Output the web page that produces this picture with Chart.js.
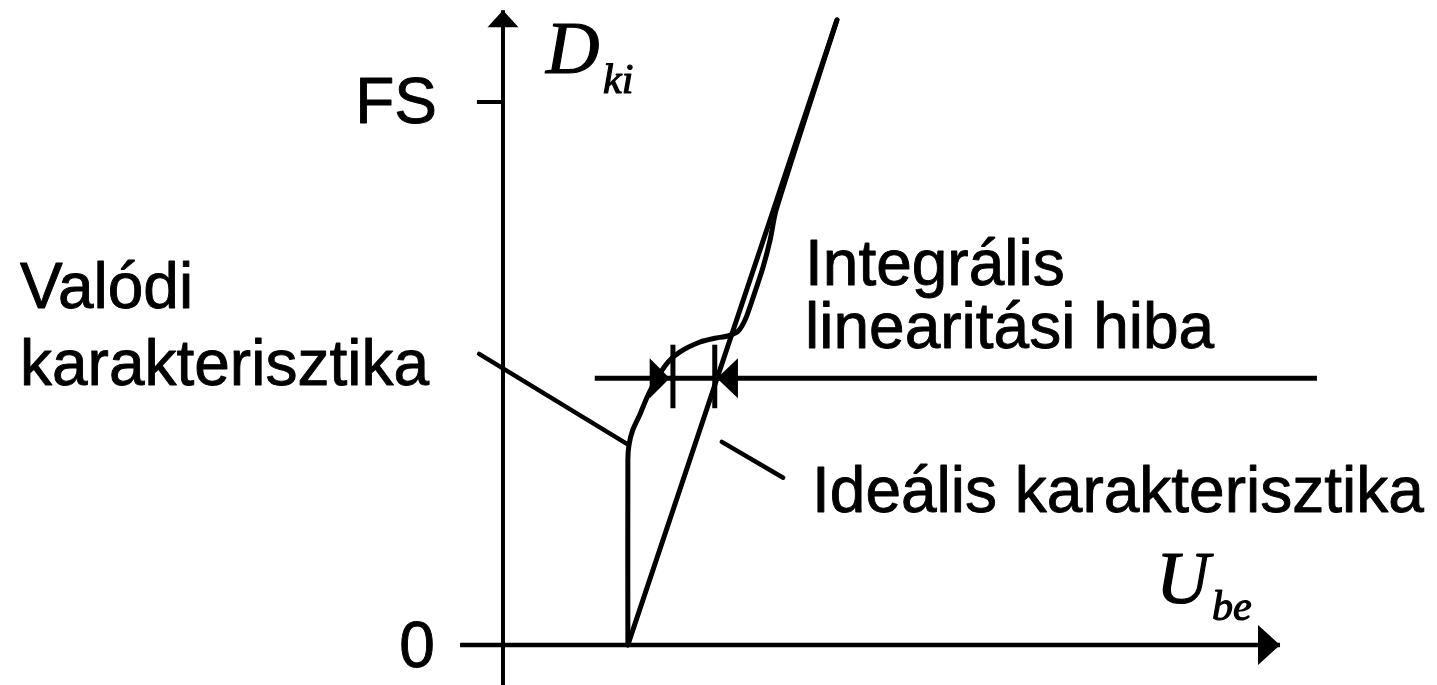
<!DOCTYPE html>
<html><head><meta charset="utf-8">
<script src="https://cdn.jsdelivr.net/npm/chart.js@4/dist/chart.umd.min.js"></script>
<style>html,body{margin:0;padding:0;background:#fff;}#wrap{width:1437px;height:685px;position:relative;}</style>
</head><body><div id="wrap"><canvas id="c" width="1437" height="685"></canvas></div>
<script>
// ---- data (U: input voltage, D: output code; FS = 100) ----
const idealU = [23.0, 61.5];
const idealD = [0, 115.1];
const realU = [23.0, 23.0, 23.2, 23.9, 25.2, 26.7, 28.4, 30.4, 32.6, 36.3, 39.0, 41.4, 43.3, 44.6, 45.9, 47.9, 49.2, 50.3, 61.5];
const realD = [0, 34.1, 36.8, 39.6, 42.4, 46.0, 49.2, 52.1, 54.0, 55.8, 56.5, 56.9, 57.8, 59.9, 63.5, 69.6, 74.6, 80.1, 115.1];
const fsLevel = 100;
const fsTickU = [-4.8, 0];
const errorLevel = 49.1;
const errorLineU = [16.9, 149.9];
const errorMarkU = [31.3, 39.0];
const errorMarkD = [43.6, 55.3];
const errorArrowTipU = [30.7, 39.4];
const yAxisD = [-7.4, 116.9];
const xAxisU = [-7.9, 143.1];
const valodiLeaderU = [-4.4, 23.2];
const valodiLeaderD = [53.6, 36.8];
const idealisLeaderU = [40.3, 51.6];
const idealisLeaderD = [37.4, 30.8];
const tickLabels = ['FS', '0'];
const textValodi = ['Valódi', 'karakterisztika'];
const textInteg = ['Integrális', 'linearitási hiba'];
const textIdealis = 'Ideális karakterisztika';

const pts = (u, d) => u.map((v, i) => ({x: v, y: d[i]}));
const line = (data, w, extra) => Object.assign({data, borderColor: '#000', borderWidth: w, pointRadius: 0, showLine: true, fill: false, borderCapStyle: 'round', borderJoinStyle: 'round'}, extra || {});

const datasets = [
  line(pts([0, 0], yAxisD), 4, {borderCapStyle: 'butt'}),
  line(pts(xAxisU, [0, 0]), 4.5, {borderCapStyle: 'butt'}),
  line(pts(fsTickU, [fsLevel, fsLevel]), 4, {borderCapStyle: 'butt'}),
  line(pts(idealU, idealD), 5),
  line(pts(realU, realD), 5, {tension: 0.25}),
  line(pts(errorLineU, [errorLevel, errorLevel]), 5, {borderCapStyle: 'butt'}),
  line(pts([errorMarkU[0], errorMarkU[0]], errorMarkD), 5, {borderCapStyle: 'butt'}),
  line(pts([errorMarkU[1], errorMarkU[1]], errorMarkD), 5, {borderCapStyle: 'butt'}),
  line(pts(valodiLeaderU, valodiLeaderD), 4.5),
  line(pts(idealisLeaderU, idealisLeaderD), 4.5)
];

const decor = {
  id: 'decor',
  afterDatasetsDraw(chart) {
    const ctx = chart.ctx, xs = chart.scales.x, ys = chart.scales.y;
    const X = v => xs.getPixelForValue(v), Y = v => ys.getPixelForValue(v);
    ctx.save();
    ctx.fillStyle = '#000'; ctx.strokeStyle = '#000';
    const tri = (a, b, c) => { ctx.beginPath(); ctx.moveTo(a[0], a[1]); ctx.lineTo(b[0], b[1]); ctx.lineTo(c[0], c[1]); ctx.closePath(); ctx.fill(); };
    // y-axis arrow
    const yt = Y(yAxisD[1]), x0 = X(0);
    tri([x0, yt], [x0 - 15.5, yt + 17], [x0 + 15.5, yt + 17]);
    // x-axis arrow
    const xt = X(xAxisU[1]), y0 = Y(0);
    tri([xt, y0], [xt - 22, y0 - 20], [xt - 22, y0 + 20]);
    // error arrows
    const ye = Y(errorLevel);
    const a1 = X(errorArrowTipU[0]), a2 = X(errorArrowTipU[1]);
    tri([a1, ye], [a1 - 20, ye - 20], [a1 - 20, ye + 20]);
    tri([a2, ye], [a2 + 21, ye - 20], [a2 + 21, ye + 20]);

    // texts (slight stroke to mimic the heavier print)
    const put = (t, x, y) => { ctx.fillText(t, x, y); ctx.strokeText(t, x, y); };
    ctx.lineWidth = 0.9; ctx.lineJoin = 'round';
    const sans = '64px "Liberation Sans", Arial, sans-serif';
    ctx.font = sans; ctx.textBaseline = 'alphabetic';
    ctx.textAlign = 'right';
    put(tickLabels[0], X(-12.15), Y(96.1));
    ctx.textAlign = 'center';
    put(tickLabels[1], X(-15.84), Y(-4.05));
    ctx.textAlign = 'left';
    put(textValodi[0], X(-88.95), Y(62.06));
    put(textValodi[1], X(-88.95), Y(47.88));
    put(textInteg[0], X(55.62), Y(66.3));
    put(textInteg[1], X(55.62), Y(54.7));
    put(textIdealis, X(56.91), Y(24.49));
    // axis titles (italic serif with subscripts)
    const big = 'italic 74px "Liberation Serif", "Times New Roman", serif';
    const sub = 'italic 42px "Liberation Serif", "Times New Roman", serif';
    ctx.lineWidth = 1.2;
    ctx.font = big; put('D', X(7.92), Y(105.34));
    ctx.font = sub; put('ki', X(18.42), Y(101.66));
    ctx.font = big; put('U', X(120.26), Y(7.73));
    ctx.font = sub; put('be', X(130.57), Y(4.6));
    ctx.restore();
  }
};

new Chart(document.getElementById('c'), {
  type: 'scatter',
  data: {datasets},
  options: {
    responsive: false,
    animation: false,
    events: [],
    layout: {padding: 0},
    plugins: {legend: {display: false}, tooltip: {enabled: false}},
    scales: {
      x: {type: 'linear', display: false, min: -92.63, max: 172.01},
      y: {type: 'linear', display: false, min: -7.37, max: 118.78}
    }
  },
  plugins: [decor]
});
</script>
</body></html>
